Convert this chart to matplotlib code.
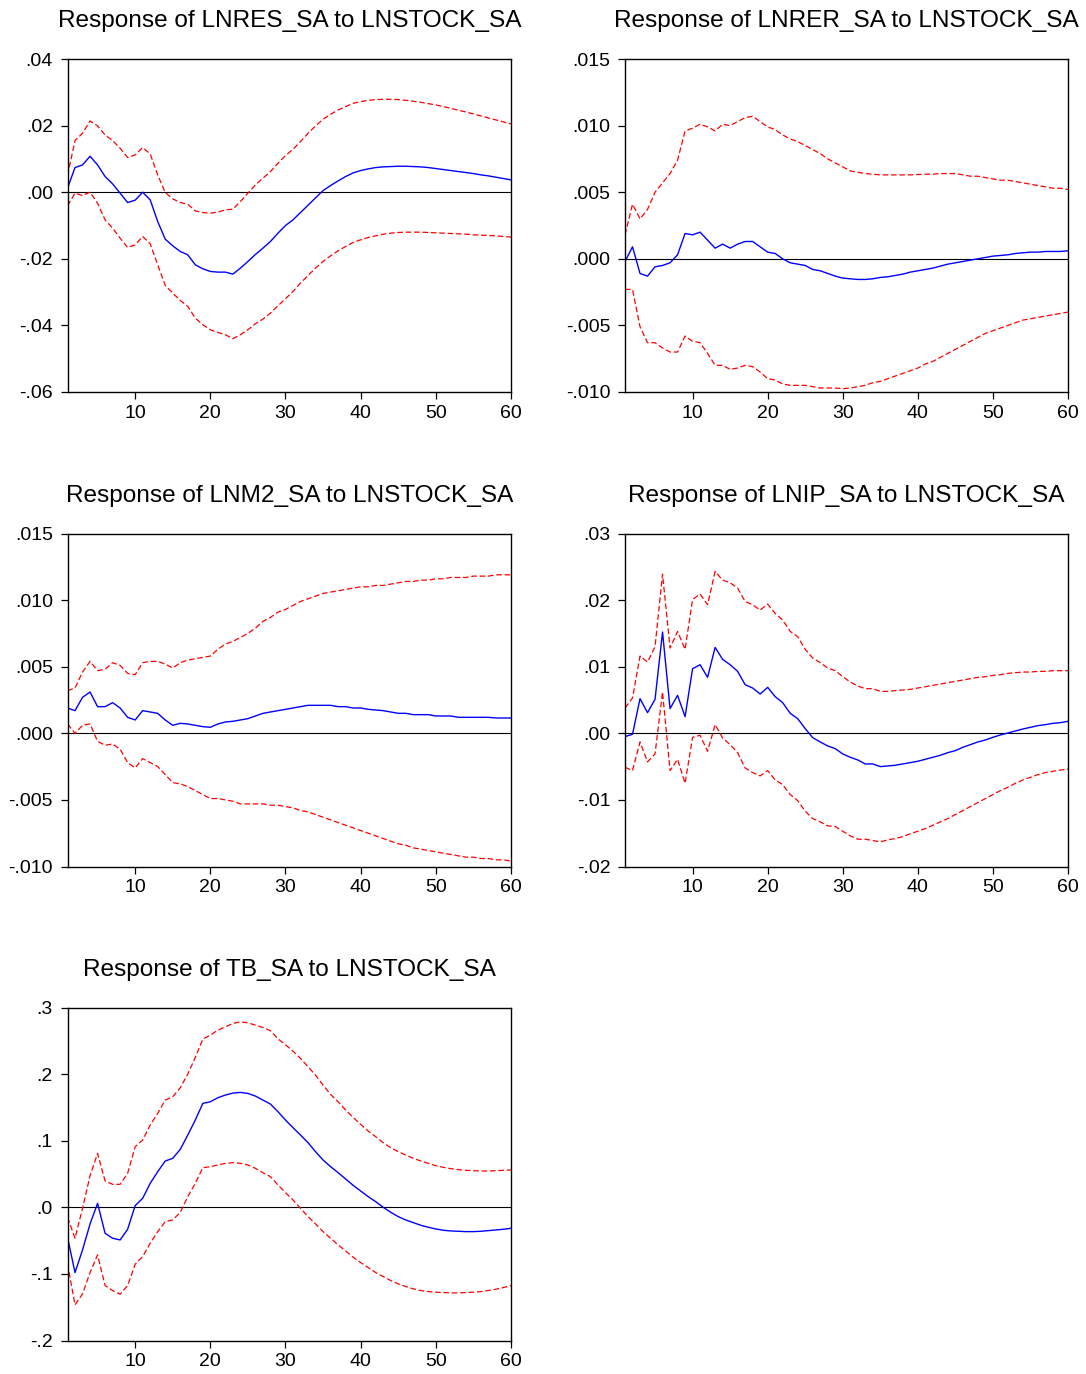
import numpy as np
import matplotlib
matplotlib.use('Agg')
import matplotlib.pyplot as plt

plt.rcParams['font.family'] = ['Liberation Sans', 'DejaVu Sans']

# horizon 1..60
periods = np.arange(1, 61)
x_ticks = [10, 20, 30, 40, 50, 60]

# ---- Response of LNRES_SA ----
res_resp = [0.0012, 0.0074, 0.0082, 0.0108, 0.0082, 0.0047, 0.0025, -0.0003, -0.0031, -0.0024,
            0.0000, -0.0023, -0.0088, -0.0141, -0.0161, -0.0178, -0.0188, -0.0218, -0.0230, -0.0238,
            -0.0240, -0.0240, -0.0246, -0.0228, -0.0208, -0.0187, -0.0168, -0.0148, -0.0123, -0.0100,
            -0.0083, -0.0061, -0.0039, -0.0017, 0.0005, 0.0020, 0.0034, 0.0047, 0.0058, 0.0065,
            0.0070, 0.0074, 0.0076, 0.0077, 0.0078, 0.0078, 0.0077, 0.0076, 0.0074, 0.0071,
            0.0068, 0.0065, 0.0062, 0.0059, 0.0056, 0.0052, 0.0049, 0.0045, 0.0041, 0.0037]
res_hi = [0.0050, 0.0155, 0.0177, 0.0214, 0.0199, 0.0172, 0.0155, 0.0132, 0.0104, 0.0112,
          0.0134, 0.0115, 0.0052, -0.0001, -0.0020, -0.0031, -0.0036, -0.0056, -0.0061, -0.0063,
          -0.0060, -0.0053, -0.0051, -0.0028, -0.0003, 0.0022, 0.0042, 0.0062, 0.0087, 0.0110,
          0.0129, 0.0152, 0.0177, 0.0199, 0.0219, 0.0234, 0.0247, 0.0257, 0.0267, 0.0272,
          0.0276, 0.0278, 0.0279, 0.0279, 0.0278, 0.0276, 0.0273, 0.0270, 0.0266, 0.0262,
          0.0257, 0.0252, 0.0246, 0.0241, 0.0235, 0.0229, 0.0223, 0.0217, 0.0211, 0.0205]
res_lo = [-0.0041, -0.0003, -0.0010, 0.0000, -0.0033, -0.0083, -0.0108, -0.0138, -0.0166, -0.0158,
          -0.0133, -0.0155, -0.0218, -0.0280, -0.0303, -0.0325, -0.0343, -0.0378, -0.0398, -0.0413,
          -0.0421, -0.0428, -0.0440, -0.0428, -0.0413, -0.0395, -0.0381, -0.0363, -0.0341, -0.0320,
          -0.0298, -0.0273, -0.0250, -0.0228, -0.0208, -0.0191, -0.0176, -0.0163, -0.0151, -0.0143,
          -0.0136, -0.0131, -0.0126, -0.0123, -0.0121, -0.0120, -0.0120, -0.0120, -0.0121, -0.0122,
          -0.0123, -0.0124, -0.0125, -0.0126, -0.0128, -0.0129, -0.0130, -0.0131, -0.0133, -0.0135]
res_yticks = [-0.06, -0.04, -0.02, 0.0, 0.02, 0.04]
res_ylabels = ['-.06', '-.04', '-.02', '.00', '.02', '.04']

# ---- Response of LNRER_SA ----
rer_resp = [-0.0002, 0.0009, -0.0011, -0.0013, -0.0006, -0.0005, -0.0003, 0.0003, 0.0019, 0.0018,
            0.0020, 0.0014, 0.0008, 0.0011, 0.0008, 0.0011, 0.0013, 0.0013, 0.0009, 0.0005,
            0.0004, 0.0000, -0.0003, -0.0004, -0.0005, -0.0008, -0.0009, -0.0011, -0.0013, -0.00145,
            -0.0015, -0.00155, -0.00155, -0.0015, -0.0014, -0.00135, -0.00125, -0.00115, -0.0010, -0.0009,
            -0.0008, -0.0007, -0.00055, -0.0004, -0.0003, -0.0002, -0.0001, 0.0000, 0.0001, 0.0002,
            0.00025, 0.0003, 0.0004, 0.00045, 0.0005, 0.0005, 0.00055, 0.00055, 0.00055, 0.0006]
rer_hi = [0.0018, 0.0041, 0.0030, 0.0037, 0.0050, 0.0057, 0.0064, 0.0074, 0.0096, 0.0098,
          0.0101, 0.0099, 0.0096, 0.0101, 0.0100, 0.0103, 0.0106, 0.0107, 0.0103, 0.0099,
          0.0097, 0.0093, 0.0090, 0.0088, 0.0085, 0.0082, 0.0079, 0.0075, 0.0072, 0.0069,
          0.0066, 0.0065, 0.0064, 0.00635, 0.0063, 0.0063, 0.0063, 0.0063, 0.0063, 0.00633,
          0.00635, 0.00635, 0.0064, 0.0064, 0.0064, 0.0063, 0.0062, 0.0062, 0.0061, 0.0060,
          0.0059, 0.0059, 0.0058, 0.0057, 0.0056, 0.0055, 0.0054, 0.0053, 0.0053, 0.0052]
rer_lo = [-0.0023, -0.0023, -0.0051, -0.0063, -0.0063, -0.0067, -0.0070, -0.0070, -0.0058, -0.0062,
          -0.0063, -0.0071, -0.0080, -0.0080, -0.0083, -0.0082, -0.0080, -0.0081, -0.0085, -0.0090,
          -0.0091, -0.0094, -0.0095, -0.0095, -0.0095, -0.0096, -0.0097, -0.0097, -0.0097, -0.00975,
          -0.0097, -0.0096, -0.0095, -0.0093, -0.0092, -0.0090, -0.0088, -0.0086, -0.0084, -0.0082,
          -0.0079, -0.0077, -0.0074, -0.0071, -0.0068, -0.0065, -0.0062, -0.0059, -0.0056, -0.0054,
          -0.0052, -0.0050, -0.0048, -0.0046, -0.0045, -0.0044, -0.0043, -0.0042, -0.0041, -0.0040]
rer_yticks = [-0.010, -0.005, 0.0, 0.005, 0.010, 0.015]
rer_ylabels = ['-.010', '-.005', '.000', '.005', '.010', '.015']

# ---- Response of LNM2_SA ----
m2_resp = [0.0019, 0.0017, 0.0027, 0.0031, 0.0020, 0.0020, 0.0023, 0.0019, 0.0012, 0.0010,
           0.0017, 0.0016, 0.0015, 0.0010, 0.0006, 0.00075, 0.0007, 0.0006, 0.0005, 0.00045,
           0.0007, 0.00085, 0.0009, 0.0010, 0.0011, 0.0013, 0.0015, 0.0016, 0.0017, 0.0018,
           0.0019, 0.0020, 0.0021, 0.0021, 0.0021, 0.0021, 0.0020, 0.0020, 0.0019, 0.0019,
           0.0018, 0.00175, 0.0017, 0.0016, 0.0015, 0.0015, 0.0014, 0.0014, 0.0014, 0.0013,
           0.0013, 0.0013, 0.0012, 0.0012, 0.0012, 0.0012, 0.0012, 0.00115, 0.00115, 0.00115]
m2_hi = [0.0032, 0.0034, 0.0046, 0.0054, 0.0047, 0.0048, 0.0053, 0.0051, 0.0045, 0.0044,
         0.0053, 0.0054, 0.0054, 0.0052, 0.0049, 0.0053, 0.0055, 0.0056, 0.0057, 0.0058,
         0.0063, 0.0067, 0.0069, 0.0072, 0.0075, 0.0079, 0.0084, 0.0087, 0.0091, 0.0093,
         0.0096, 0.0099, 0.0101, 0.0103, 0.0105, 0.0106, 0.0107, 0.0108, 0.0109, 0.0110,
         0.0110, 0.0111, 0.0111, 0.0112, 0.0113, 0.0114, 0.0114, 0.0115, 0.0115, 0.0116,
         0.0116, 0.0117, 0.0117, 0.0117, 0.0118, 0.0118, 0.0118, 0.0119, 0.0119, 0.0119]
m2_lo = [0.0007, 0.0000, 0.0006, 0.0007, -0.0006, -0.0009, -0.0008, -0.0012, -0.0022, -0.0026,
         -0.0019, -0.0022, -0.0025, -0.0031, -0.0037, -0.0038, -0.0040, -0.0043, -0.0046, -0.0049,
         -0.0049, -0.0050, -0.0051, -0.0053, -0.0053, -0.0053, -0.0053, -0.0054, -0.0054, -0.0055,
         -0.0056, -0.0058, -0.0059, -0.0061, -0.0063, -0.0065, -0.0067, -0.0069, -0.0071, -0.0073,
         -0.0075, -0.0077, -0.0079, -0.0081, -0.0083, -0.0084, -0.0086, -0.0087, -0.0088, -0.0089,
         -0.0090, -0.0091, -0.0092, -0.0093, -0.0093, -0.0094, -0.0094, -0.0095, -0.0095, -0.0096]
m2_yticks = [-0.010, -0.005, 0.0, 0.005, 0.010, 0.015]
m2_ylabels = ['-.010', '-.005', '.000', '.005', '.010', '.015']

# ---- Response of LNIP_SA ----
ip_resp = [-0.0005, -0.00015, 0.0052, 0.0031, 0.0051, 0.0152, 0.0037, 0.0057, 0.0025, 0.0097,
           0.0103, 0.0084, 0.0129, 0.0111, 0.0103, 0.0093, 0.0073, 0.0068, 0.0059, 0.0069,
           0.0055, 0.0046, 0.0030, 0.0022, 0.0007, -0.00065, -0.0013, -0.0019, -0.0023, -0.0031,
           -0.0036, -0.0040, -0.0046, -0.0046, -0.0050, -0.0049, -0.0048, -0.0046, -0.0044, -0.0042,
           -0.0039, -0.0036, -0.0033, -0.0029, -0.0026, -0.0021, -0.0017, -0.0013, -0.0010, -0.0006,
           -0.00025, 0.00005, 0.00035, 0.00065, 0.0009, 0.00115, 0.0013, 0.0015, 0.0016, 0.0018]
ip_hi = [0.0038, 0.0053, 0.0116, 0.0107, 0.0130, 0.0239, 0.0128, 0.0153, 0.0126, 0.0201,
         0.0209, 0.0193, 0.0243, 0.0230, 0.0226, 0.0218, 0.0198, 0.0193, 0.0185, 0.0194,
         0.0180, 0.0170, 0.0153, 0.0145, 0.0126, 0.0113, 0.0106, 0.0098, 0.0094, 0.0085,
         0.0077, 0.0071, 0.0067, 0.0067, 0.0063, 0.0063, 0.0064, 0.0065, 0.0066, 0.0068,
         0.0070, 0.0072, 0.0074, 0.0076, 0.0078, 0.0080, 0.0082, 0.0084, 0.0085, 0.0087,
         0.0088, 0.0090, 0.0091, 0.0092, 0.0092, 0.0093, 0.0093, 0.0094, 0.0094, 0.0094]
ip_lo = [-0.0051, -0.0056, -0.0013, -0.0043, -0.0031, 0.0062, -0.0056, -0.0039, -0.0075, -0.0006,
         -0.0003, -0.0027, 0.0013, -0.0007, -0.0017, -0.0029, -0.0052, -0.0059, -0.0064, -0.0056,
         -0.0070, -0.0077, -0.0092, -0.0101, -0.0117, -0.0128, -0.0133, -0.0139, -0.0140, -0.0147,
         -0.0154, -0.0159, -0.0159, -0.0161, -0.0163, -0.0160, -0.0158, -0.0155, -0.0151, -0.0147,
         -0.0143, -0.0138, -0.0133, -0.0128, -0.0122, -0.0116, -0.0110, -0.0104, -0.0098, -0.0092,
         -0.0086, -0.0081, -0.0075, -0.0070, -0.0066, -0.0062, -0.0059, -0.0057, -0.0055, -0.0054]
ip_yticks = [-0.02, -0.01, 0.0, 0.01, 0.02, 0.03]
ip_ylabels = ['-.02', '-.01', '.00', '.01', '.02', '.03']

# ---- Response of TB_SA ----
tb_resp = [-0.045, -0.098, -0.064, -0.025, 0.006, -0.039, -0.0465, -0.049, -0.033, 0.0025,
           0.0135, 0.036, 0.0535, 0.0695, 0.0735, 0.087, 0.1085, 0.131, 0.156, 0.1585,
           0.1645, 0.1685, 0.1715, 0.1725, 0.171, 0.167, 0.161, 0.155, 0.1435, 0.131,
           0.1195, 0.1085, 0.097, 0.0835, 0.071, 0.061, 0.052, 0.0425, 0.033, 0.0245,
           0.016, 0.0085, 0.0, -0.0075, -0.014, -0.019, -0.023, -0.027, -0.030, -0.0325,
           -0.0345, -0.0355, -0.036, -0.0365, -0.0365, -0.036, -0.035, -0.034, -0.033, -0.0315]
tb_hi = [-0.015, -0.0465, -0.0015, 0.0475, 0.081, 0.0395, 0.0345, 0.0345, 0.051, 0.091,
         0.101, 0.1235, 0.141, 0.161, 0.166, 0.1795, 0.200, 0.225, 0.2525, 0.2585,
         0.266, 0.271, 0.276, 0.2785, 0.277, 0.2735, 0.270, 0.265, 0.253, 0.244,
         0.2345, 0.2235, 0.211, 0.1985, 0.1835, 0.1695, 0.1585, 0.146, 0.135, 0.1245,
         0.1145, 0.106, 0.097, 0.0895, 0.0835, 0.0785, 0.0735, 0.0695, 0.066, 0.0625,
         0.060, 0.058, 0.0565, 0.0555, 0.055, 0.0545, 0.0545, 0.055, 0.0555, 0.056]
tb_lo = [-0.085, -0.1465, -0.130, -0.098, -0.0715, -0.1175, -0.125, -0.1305, -0.1175, -0.0855,
         -0.074, -0.054, -0.0365, -0.0215, -0.019, -0.0075, 0.016, 0.036, 0.0595, 0.061,
         0.0635, 0.066, 0.067, 0.066, 0.0635, 0.0585, 0.052, 0.046, 0.0335, 0.022,
         0.011, -0.0015, -0.014, -0.025, -0.0365, -0.0465, -0.0565, -0.0655, -0.075, -0.083,
         -0.0905, -0.098, -0.104, -0.110, -0.115, -0.119, -0.1225, -0.125, -0.1265, -0.1275,
         -0.128, -0.1285, -0.1285, -0.128, -0.1275, -0.1265, -0.125, -0.123, -0.1205, -0.1175]
tb_yticks = [-0.2, -0.1, 0.0, 0.1, 0.2, 0.3]
tb_ylabels = ['-.2', '-.1', '.0', '.1', '.2', '.3']


def draw_panel(ax, title, resp, hi, lo, yticks, ylabels):
    ax.axhline(0, color='black', linewidth=0.8)
    # confidence bands, short red dashes
    ax.plot(periods, hi, color='#ff0000', linewidth=0.9, linestyle=(0, (4.5, 2.2)))
    ax.plot(periods, lo, color='#ff0000', linewidth=0.9, linestyle=(0, (4.5, 2.2)))
    ax.plot(periods, resp, color='#0000ff', linewidth=1.0)
    ax.set_xlim(1, 60)
    ax.set_ylim(yticks[0], yticks[-1])
    ax.set_xticks(x_ticks)
    ax.set_yticks(yticks)
    ax.set_yticklabels(ylabels)
    ax.tick_params(axis='both', direction='out', length=5, width=0.9,
                   labelsize=14, colors='black', top=False, right=False)
    ax.tick_params(axis='y', pad=5.5)
    ax.tick_params(axis='x', pad=4.3)
    for s in ax.spines.values():
        s.set_linewidth(1.0)
        s.set_color('black')
    ax.set_title(title, fontsize=17.6, pad=23)


W, H = 1086, 1374
fig = plt.figure(figsize=(W / 100, H / 100), dpi=100)

# axes boxes in pixels: left, top, right, bottom
boxes = [(67.5, 59, 511, 392), (625, 59, 1068, 392),
         (67.5, 533.5, 511, 866.5), (625, 533.5, 1068, 866.5),
         (67.5, 1007.5, 511, 1340.5)]

panels = [("Response of LNRES_SA to LNSTOCK_SA", res_resp, res_hi, res_lo, res_yticks, res_ylabels),
          ("Response of LNRER_SA to LNSTOCK_SA", rer_resp, rer_hi, rer_lo, rer_yticks, rer_ylabels),
          ("Response of LNM2_SA to LNSTOCK_SA", m2_resp, m2_hi, m2_lo, m2_yticks, m2_ylabels),
          ("Response of LNIP_SA to LNSTOCK_SA", ip_resp, ip_hi, ip_lo, ip_yticks, ip_ylabels),
          ("Response of TB_SA to LNSTOCK_SA", tb_resp, tb_hi, tb_lo, tb_yticks, tb_ylabels)]

for (l, t, r, b), p in zip(boxes, panels):
    ax = fig.add_axes([l / W, 1 - b / H, (r - l) / W, (b - t) / H])
    draw_panel(ax, *p)

plt.savefig("out.png", dpi=100)
